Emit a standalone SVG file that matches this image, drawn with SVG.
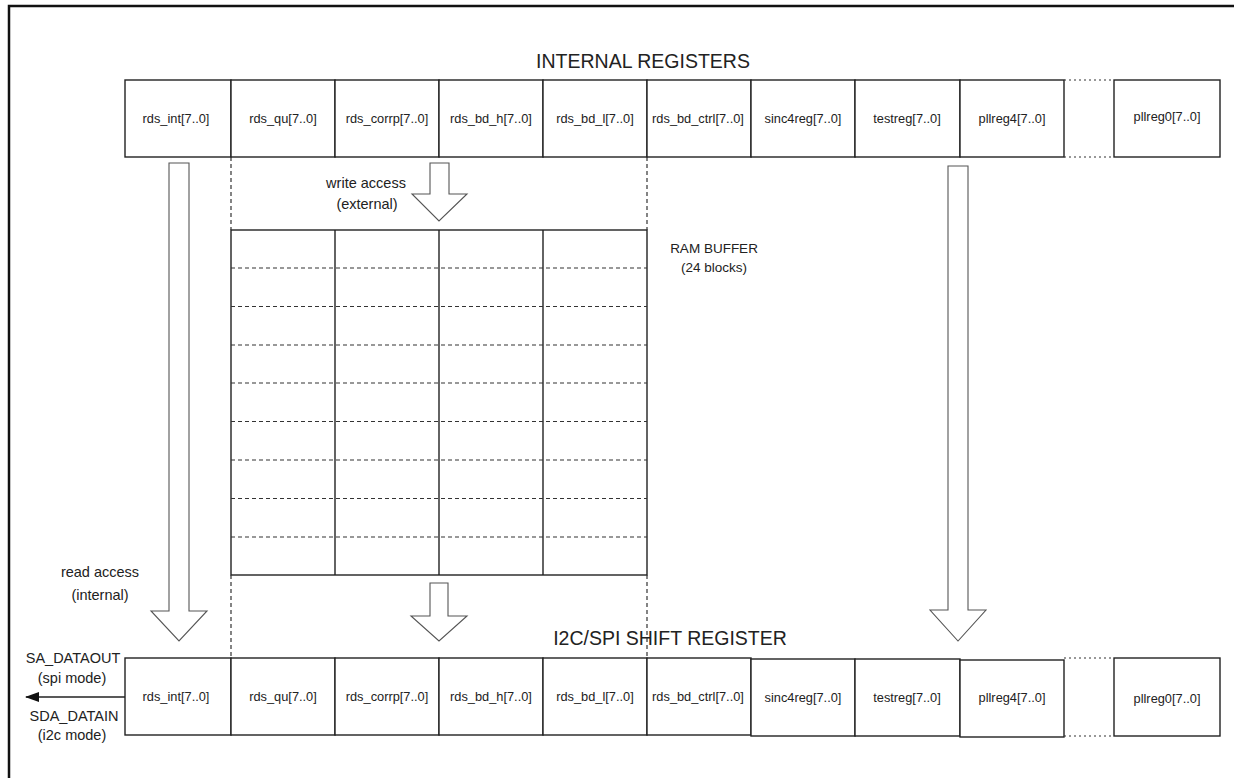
<svg xmlns="http://www.w3.org/2000/svg" width="1234" height="778" viewBox="0 0 1234 778">
<style>
.frame{fill:none;stroke:#111;stroke-width:2.5}
.cell{fill:#fff;stroke:#222;stroke-width:1.4}
.reg{font-family:"Liberation Sans",Arial,sans-serif;font-size:12.8px;fill:#222;text-anchor:middle}
.title{font-family:"Liberation Sans",Arial,sans-serif;font-size:19.5px;fill:#222;text-anchor:middle}
.note{font-family:"Liberation Sans",Arial,sans-serif;font-size:14.5px;fill:#222;text-anchor:middle}
.dash{fill:none;stroke:#333;stroke-width:1.2;stroke-dasharray:4 3}
.dot{fill:none;stroke:#333;stroke-width:1.2;stroke-dasharray:2 3}
.barrow{fill:#fff;stroke:#555;stroke-width:1.1}
.solid{fill:none;stroke:#222;stroke-width:1.4}
</style>
<defs>
<marker id="ah" markerWidth="14" markerHeight="10" refX="13" refY="5" orient="auto" markerUnits="userSpaceOnUse">
<path d="M0,0 L14,5 L0,10 Z" fill="#111"/>
</marker>
</defs>
<rect class="frame" x="9" y="6" width="1240" height="800"/>
<text class="title" x="643" y="68">INTERNAL REGISTERS</text>
<text class="title" x="670" y="645">I2C/SPI SHIFT REGISTER</text>

<g id="internal-registers">
<g id="ir-rds_int"><rect class="cell" x="125" y="80" width="106" height="77"/><text class="reg" x="176" y="123">rds_int[7..0]</text></g>
<g id="ir-rds_qu"><rect class="cell" x="231" y="80" width="104" height="77"/><text class="reg" x="283" y="123">rds_qu[7..0]</text></g>
<g id="ir-rds_corrp"><rect class="cell" x="335" y="80" width="104" height="77"/><text class="reg" x="387" y="123">rds_corrp[7..0]</text></g>
<g id="ir-rds_bd_h"><rect class="cell" x="439" y="80" width="104" height="77"/><text class="reg" x="491" y="123">rds_bd_h[7..0]</text></g>
<g id="ir-rds_bd_l"><rect class="cell" x="543" y="80" width="104" height="77"/><text class="reg" x="595" y="123">rds_bd_l[7..0]</text></g>
<g id="ir-rds_bd_ctrl"><rect class="cell" x="647" y="80" width="104" height="77"/><text class="reg" x="698" y="123">rds_bd_ctrl[7..0]</text></g>
<g id="ir-sinc4reg"><rect class="cell" x="751" y="80" width="104" height="77"/><text class="reg" x="803" y="123">sinc4reg[7..0]</text></g>
<g id="ir-testreg"><rect class="cell" x="855" y="80" width="105" height="77"/><text class="reg" x="907" y="123">testreg[7..0]</text></g>
<g id="ir-pllreg4"><rect class="cell" x="960" y="80" width="104" height="77"/><text class="reg" x="1012" y="123">pllreg4[7..0]</text></g>
<g id="ir-gap"><line class="dot" x1="1064" y1="80" x2="1114" y2="80"/><line class="dot" x1="1064" y1="157" x2="1114" y2="157"/></g>
<g id="ir-pllreg0"><rect class="cell" x="1114" y="80" width="106" height="77"/><text class="reg" x="1167" y="121">pllreg0[7..0]</text></g>
</g>

<g id="ram-buffer">
<rect class="cell" x="231" y="230" width="416" height="345"/>
<line class="solid" x1="335" y1="230" x2="335" y2="575"/>
<line class="solid" x1="439" y1="230" x2="439" y2="575"/>
<line class="solid" x1="543" y1="230" x2="543" y2="575"/>
<line class="dash" x1="231" y1="268" x2="647" y2="268"/>
<line class="dash" x1="231" y1="306.5" x2="647" y2="306.5"/>
<line class="dash" x1="231" y1="345" x2="647" y2="345"/>
<line class="dash" x1="231" y1="383" x2="647" y2="383"/>
<line class="dash" x1="231" y1="421.5" x2="647" y2="421.5"/>
<line class="dash" x1="231" y1="460" x2="647" y2="460"/>
<line class="dash" x1="231" y1="498.5" x2="647" y2="498.5"/>
<line class="dash" x1="231" y1="537" x2="647" y2="537"/>
<text class="note" x="714" y="253" style="font-size:13.5px">RAM BUFFER</text>
<text class="note" x="714" y="272" style="font-size:13.5px">(24 blocks)</text>
</g>

<g id="shift-register">
<g id="sr-rds_int"><rect class="cell" x="125" y="658" width="106" height="77"/><text class="reg" x="176" y="701">rds_int[7..0]</text></g>
<g id="sr-rds_qu"><rect class="cell" x="231" y="658" width="104" height="77"/><text class="reg" x="283" y="701">rds_qu[7..0]</text></g>
<g id="sr-rds_corrp"><rect class="cell" x="335" y="658" width="104" height="77"/><text class="reg" x="387" y="701">rds_corrp[7..0]</text></g>
<g id="sr-rds_bd_h"><rect class="cell" x="439" y="658" width="104" height="77"/><text class="reg" x="491" y="701">rds_bd_h[7..0]</text></g>
<g id="sr-rds_bd_l"><rect class="cell" x="543" y="658" width="104" height="77"/><text class="reg" x="595" y="701">rds_bd_l[7..0]</text></g>
<g id="sr-rds_bd_ctrl"><rect class="cell" x="647" y="658" width="104" height="77"/><text class="reg" x="698" y="701">rds_bd_ctrl[7..0]</text></g>
<g id="sr-sinc4reg"><rect class="cell" x="751" y="659" width="104" height="77"/><text class="reg" x="803" y="702">sinc4reg[7..0]</text></g>
<g id="sr-testreg"><rect class="cell" x="855" y="659" width="105" height="77"/><text class="reg" x="907" y="702">testreg[7..0]</text></g>
<g id="sr-pllreg4"><rect class="cell" x="960" y="660" width="104" height="77"/><text class="reg" x="1012" y="702">pllreg4[7..0]</text></g>
<g id="sr-gap"><line class="dot" x1="1064" y1="658" x2="1114" y2="658"/><line class="dot" x1="1064" y1="736" x2="1114" y2="736"/></g>
<g id="sr-pllreg0"><rect class="cell" x="1114" y="658" width="106" height="78"/><text class="reg" x="1167" y="703">pllreg0[7..0]</text></g>
</g>

<g id="connectors">
<line class="dash" x1="231" y1="157" x2="231" y2="230"/>
<line class="dash" x1="647" y1="157" x2="647" y2="230"/>
<line class="dash" x1="231" y1="575" x2="231" y2="658"/>
<line class="dash" x1="647" y1="575" x2="647" y2="658"/>
<path id="read-arrow" class="barrow" d="M169,163 H189 V611 H207 L179,641 L151,611 H169 Z"/>
<path id="write-arrow" class="barrow" d="M430,163 H449 V194 H467 L439,221 L412,194 H430 Z"/>
<path id="ram-out-arrow" class="barrow" d="M430,583 H448 V616 H467 L439,641 L411,616 H430 Z"/>
<path id="right-arrow" class="barrow" d="M948,166 H968 V610 H986 L958,641 L930,610 H948 Z"/>
<line class="solid" x1="125" y1="697" x2="26" y2="697" marker-end="url(#ah)"/>
</g>

<g id="labels">
<text class="note" x="366" y="188">write access</text>
<text class="note" x="367" y="209">(external)</text>
<text class="note" x="100" y="577">read access</text>
<text class="note" x="100" y="600">(internal)</text>
<text class="note" x="73" y="663">SA_DATAOUT</text>
<text class="note" x="72" y="683">(spi mode)</text>
<text class="note" x="74" y="721">SDA_DATAIN</text>
<text class="note" x="72" y="740">(i2c mode)</text>
</g>
</svg>
